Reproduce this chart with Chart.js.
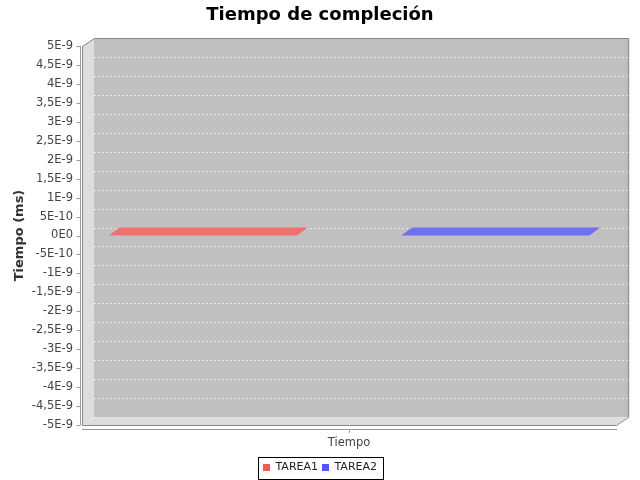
<!DOCTYPE html>
<html>
<head>
<meta charset="utf-8">
<script src="https://cdn.jsdelivr.net/npm/chart.js@4"></script>
<style>
  html, body { margin: 0; padding: 0; background: #ffffff; }
  #wrap { width: 640px; height: 480px; }
</style>
</head>
<body>
<div id="wrap"><canvas id="c" width="640" height="480"></canvas></div>
<script>
// ---- data ----
const categories = ['Tiempo'];
const seriesNames = ['TAREA1', 'TAREA2'];
const tarea1Values = [0];
const tarea2Values = [0];
const yTickValues = [-5e-9, -4.5e-9, -4e-9, -3.5e-9, -3e-9, -2.5e-9, -2e-9, -1.5e-9, -1e-9, -5e-10, 0,
                     5e-10, 1e-9, 1.5e-9, 2e-9, 2.5e-9, 3e-9, 3.5e-9, 4e-9, 4.5e-9, 5e-9];
const yTickLabels = ['-5E-9', '-4,5E-9', '-4E-9', '-3,5E-9', '-3E-9', '-2,5E-9', '-2E-9', '-1,5E-9', '-1E-9', '-5E-10', '0E0',
                     '5E-10', '1E-9', '1,5E-9', '2E-9', '2,5E-9', '3E-9', '3,5E-9', '4E-9', '4,5E-9', '5E-9'];

const FONT = "'DejaVu Sans', sans-serif";
const DX = 12, DY = 8;       // 3D depth offsets for walls
const BDX = 11, BDY = 8;     // 3D depth offsets for bars
const faceColors = ['#F07070', '#7070F0'];

const plot3d = {
  id: 'plot3d',
  beforeDatasetsDraw(chart) {
    const ctx = chart.ctx;
    const a = chart.chartArea;
    const y = chart.scales.y;
    const L = a.left, R = a.right, T = a.top, B = a.bottom;
    ctx.save();
    ctx.fillStyle = '#C0C0C0';
    ctx.fillRect(L + DX, T - DY, R - L, B - T);
    ctx.fillStyle = '#DDDDDD';
    ctx.beginPath();
    ctx.moveTo(L, B); ctx.lineTo(L, T); ctx.lineTo(L + DX, T - DY); ctx.lineTo(L + DX, B - DY); ctx.closePath();
    ctx.fill();
    ctx.beginPath();
    ctx.moveTo(L, B); ctx.lineTo(L + DX, B - DY); ctx.lineTo(R + DX, B - DY); ctx.lineTo(R, B); ctx.closePath();
    ctx.fill();
    ctx.strokeStyle = '#E8E8E8';
    ctx.lineWidth = 1;
    ctx.setLineDash([2, 2]);
    yTickValues.forEach(v => {
      const py = Math.round(y.getPixelForValue(v)) + 0.5;
      ctx.beginPath();
      ctx.moveTo(L + DX, py - DY); ctx.lineTo(R + DX, py - DY);
      ctx.stroke();
      ctx.beginPath();
      ctx.moveTo(L, py); ctx.lineTo(L + DX, py - DY);
      ctx.stroke();
    });
    ctx.setLineDash([]);
    ctx.strokeStyle = '#888888';
    ctx.lineWidth = 1;
    ctx.beginPath();
    ctx.moveTo(L + 0.5, B + 0.5);
    ctx.lineTo(L + 0.5, T + 0.5);
    ctx.lineTo(L + DX + 0.5, T - DY + 0.5);
    ctx.lineTo(R + DX + 0.5, T - DY + 0.5);
    ctx.lineTo(R + DX + 0.5, B - DY + 0.5);
    ctx.lineTo(R + 0.5, B + 0.5);
    ctx.closePath();
    ctx.stroke();
    ctx.strokeStyle = '#999999';
    ctx.lineWidth = 1.5;
    ctx.beginPath();
    ctx.moveTo(R + DX + 0.5, T - DY);
    ctx.lineTo(R + DX + 0.5, B - DY + 0.5);
    ctx.stroke();
    ctx.restore();
  },
  afterDatasetsDraw(chart) {
    const ctx = chart.ctx;
    ctx.save();
    chart.data.datasets.forEach((ds, di) => {
      const meta = chart.getDatasetMeta(di);
      meta.data.forEach(el => {
        const x0 = el.x - el.width / 2, x1 = el.x + el.width / 2;
        const py = el.y;
        ctx.fillStyle = faceColors[di];
        ctx.beginPath();
        ctx.moveTo(x0, py);
        ctx.lineTo(x0 + BDX, py - BDY);
        ctx.lineTo(x1 + BDX, py - BDY);
        ctx.lineTo(x1, py);
        ctx.closePath();
        ctx.fill();
      });
    });
    ctx.restore();
  },
  afterDraw(chart) {
    const ctx = chart.ctx;
    const a = chart.chartArea;
    const y = chart.scales.y;
    const x = chart.scales.x;
    ctx.save();
    ctx.strokeStyle = '#999999';
    ctx.lineWidth = 1;
    const ax = a.left - 1.5;
    ctx.beginPath();
    ctx.moveTo(ax, a.top); ctx.lineTo(ax, a.bottom);
    ctx.stroke();
    yTickValues.forEach(v => {
      const py = Math.round(y.getPixelForValue(v)) + 0.5;
      ctx.beginPath();
      ctx.moveTo(ax - 4, py); ctx.lineTo(ax, py);
      ctx.stroke();
    });
    const cy = a.bottom + 4.5;
    ctx.beginPath();
    ctx.moveTo(a.left, cy); ctx.lineTo(a.right + 1, cy);
    ctx.stroke();
    categories.forEach((c, i) => {
      const px = Math.round(x.getPixelForValue(i)) + 0.5;
      ctx.beginPath();
      ctx.moveTo(px, cy); ctx.lineTo(px, cy + 3);
      ctx.stroke();
    });
    const lg = chart.legend;
    if (lg && lg.legendHitBoxes && lg.legendHitBoxes.length) {
      const hb = lg.legendHitBoxes;
      const first = hb[0], last = hb[hb.length - 1];
      const mid = first.top + first.height / 2;
      const lx = Math.round(first.left - 5) + 0.5;
      const rx = Math.round(last.left + last.width + 6) + 0.5;
      const ty = Math.round(mid - 11) + 0.5;
      const by = Math.round(mid + 11) + 0.5;
      ctx.strokeStyle = '#000000';
      ctx.lineWidth = 1;
      ctx.strokeRect(lx, ty, rx - lx, by - ty);
    }
    ctx.restore();
  }
};

new Chart(document.getElementById('c'), {
  type: 'bar',
  data: {
    labels: categories,
    datasets: [
      { label: seriesNames[0], data: tarea1Values, backgroundColor: '#FF5555', borderWidth: 0 },
      { label: seriesNames[1], data: tarea2Values, backgroundColor: '#5555FF', borderWidth: 0 }
    ]
  },
  options: {
    responsive: false,
    animation: false,
    devicePixelRatio: 1,
    layout: { padding: { left: 0, right: 0, top: 0, bottom: -3 } },
    categoryPercentage: 1.0955,
    barPercentage: 0.643,
    plugins: {
      title: {
        display: true,
        text: 'Tiempo de compleción',
        color: '#000000',
        font: { family: FONT, size: 18, weight: 'bold', lineHeight: 1.2 },
        padding: { top: 5, bottom: 19.4 }
      },
      legend: {
        display: true,
        position: 'bottom',
        labels: {
          boxWidth: 7,
          boxHeight: 7,
          padding: 4,
          color: '#222222',
          font: { family: FONT, size: 11 }
        }
      },
      tooltip: { enabled: false }
    },
    scales: {
      x: {
        type: 'category',
        offset: true,
        grid: { display: false, drawTicks: false },
        border: { display: false },
        ticks: { padding: 11, color: '#444444', font: { family: FONT, size: 11.5 } },
        afterFit(s) { s.height = 33; }
      },
      y: {
        type: 'linear',
        position: 'left',
        min: -5e-9,
        max: 5e-9,
        afterBuildTicks(s) { s.ticks = yTickValues.map(v => ({ value: v })); },
        grid: { display: false, drawTicks: false },
        border: { display: false },
        ticks: {
          autoSkip: false,
          padding: 9,
          color: '#444444',
          font: { family: FONT, size: 11.5 },
          callback(v) {
            const i = yTickValues.findIndex(t => Math.abs(t - v) < 1e-13);
            return i >= 0 ? yTickLabels[i] : '';
          }
        },
        title: {
          display: true,
          text: 'Tiempo (ms)',
          color: '#333333',
          font: { family: FONT, size: 13, weight: 'bold' },
          padding: { top: 12, bottom: 0 }
        },
        afterFit(s) { s.width = 82; }
      },
      y2: {
        type: 'linear',
        position: 'right',
        display: true,
        grid: { display: false, drawTicks: false },
        border: { display: false },
        ticks: { display: false },
        afterFit(s) { s.width = 24; }
      }
    }
  },
  plugins: [plot3d]
});
</script>
</body>
</html>
